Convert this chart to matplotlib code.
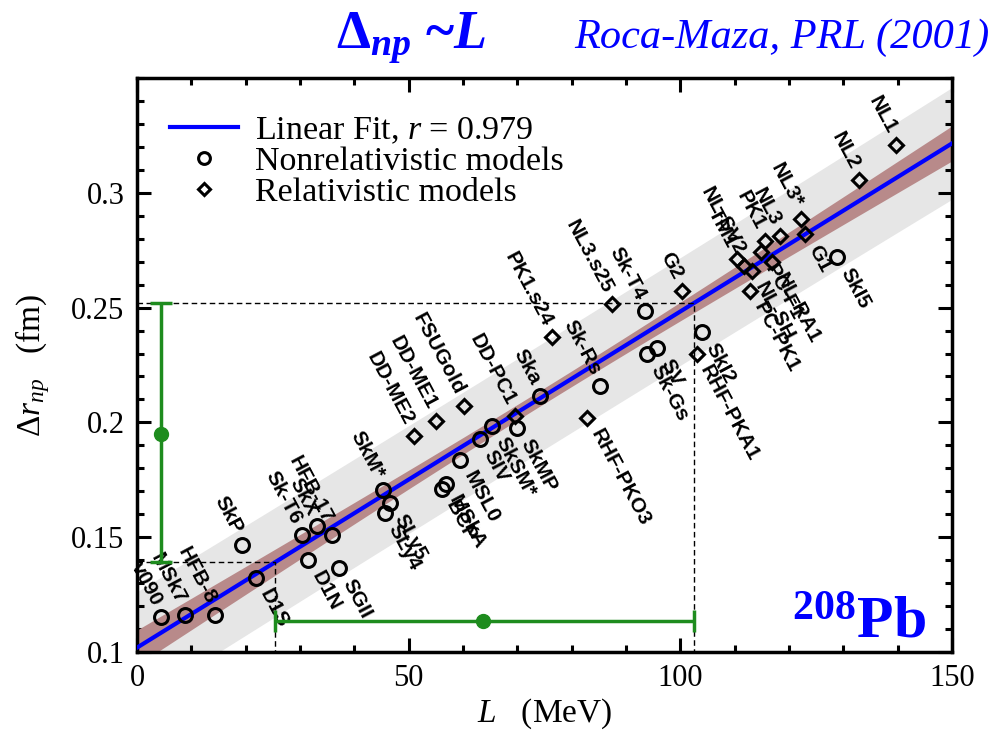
import numpy as np
import matplotlib.pyplot as plt
from matplotlib.ticker import MultipleLocator, FuncFormatter

plt.rcParams['font.family'] = ['Liberation Serif', 'DejaVu Serif']
plt.rcParams['mathtext.fontset'] = 'custom'
plt.rcParams['mathtext.rm'] = 'Liberation Serif'
plt.rcParams['mathtext.it'] = 'Liberation Serif:italic'
plt.rcParams['mathtext.bf'] = 'Liberation Serif:bold'
plt.rcParams['mathtext.bfit'] = 'Liberation Serif:bold:italic'

# modelos nao relativisticos: L (MeV) e Delta r_np (fm) do 208Pb
nr_nomes = ['v090', 'MSk7', 'HFB-8', 'D1S', 'SkP', 'Sk-T6', 'SkX', 'HFB-17',
            'D1N', 'SGII', 'SkM*', 'SLy5', 'SLy4', 'MSkA', 'BCP', 'MSL0',
            'SIV', 'SkSM*', 'SkMP', 'Ska', 'Sk-Rs', 'Sk-T4', 'Sk-Gs', 'SV',
            'SkI2', 'SkI5']
nr_L = [4.5, 8.8, 14.4, 21.9, 19.3, 30.3, 33.1, 35.8,
        31.5, 37.1, 45.3, 46.6, 45.6, 56.8, 56.2, 59.5,
        63.1, 65.3, 69.9, 74.2, 85.2, 93.5, 93.8, 95.7,
        103.9, 128.8]
nr_dr = [0.1154, 0.1162, 0.1162, 0.1324, 0.1467, 0.1510, 0.1547, 0.1510,
         0.1402, 0.1365, 0.1707, 0.1650, 0.1607, 0.1730, 0.1710, 0.1838,
         0.1926, 0.1984, 0.1977, 0.2115, 0.2159, 0.2486, 0.2297, 0.2326,
         0.2392, 0.2719]

# modelos relativisticos
rel_nomes = ['DD-ME2', 'DD-ME1', 'FSUGold', 'DD-PC1', 'PK1.s24', 'RHF-PKO3',
             'NL3.s25', 'G2', 'RHF-PKA1', 'TM1', 'NL-SV2', 'PC-PK1', 'NL-SH',
             'PC-F1', 'PK1', 'NL-RA1', 'NL3', 'NL3*', 'G1', 'NL2', 'NL1']
rel_L = [50.9, 55.0, 60.1, 69.6, 76.3, 82.8,
         87.4, 100.3, 103.0, 110.4, 111.8, 112.8, 113.1,
         114.9, 115.6, 116.8, 118.3, 122.3, 122.9, 132.9, 139.7]
rel_dr = [0.1940, 0.2006, 0.2071, 0.2027, 0.2370, 0.2020,
          0.2515, 0.2573, 0.2297, 0.2712, 0.2680, 0.2573, 0.2661,
          0.2740, 0.2792, 0.2697, 0.2810, 0.2886, 0.2820, 0.3054, 0.3207]

# valor medido de Delta r_np (centro e limites)
dr_pb = 0.195
dr_min = 0.139
dr_max = 0.252

# rotulos que ficam abaixo/direita do ponto (o resto fica acima/esquerda)
abaixo = {'D1S', 'D1N', 'SGII', 'SLy5', 'SLy4', 'MSkA', 'BCP', 'MSL0', 'SIV',
          'SkSM*', 'SkMP', 'RHF-PKO3', 'SV', 'Sk-Gs', 'SkI2', 'RHF-PKA1',
          'G1', 'NL-RA1', 'PC-F1', 'NL-SH', 'PC-PK1', 'SkI5'}

azul = '#0000ff'
verde = '#1e8c1e'

# ajuste linear com bandas de confianca e de predicao
L_todos = np.array(nr_L + rel_L)
dr_todos = np.array(nr_dr + rel_dr)
b, a = np.polyfit(L_todos, dr_todos, 1)
n = len(L_todos)
res = dr_todos - (a + b * L_todos)
s = np.sqrt(np.sum(res ** 2) / (n - 2))
Lm = L_todos.mean()
Sxx = np.sum((L_todos - Lm) ** 2)
t = 2.01
Lx = np.linspace(0, 150, 300)
reta = a + b * Lx
conf = t * s * np.sqrt(1 / n + (Lx - Lm) ** 2 / Sxx)
pred = t * s * np.sqrt(1 + 1 / n + (Lx - Lm) ** 2 / Sxx)

fig = plt.figure(figsize=(10.02, 7.30), dpi=100)
ax = fig.add_axes([137 / 1002, 1 - 652 / 730, 815 / 1002, 574 / 730])

ax.fill_between(Lx, reta - pred, reta + pred, color='#e6e6e6', lw=0, zorder=1)
ax.fill_between(Lx, reta - conf, reta + conf, color='#b88a8a', lw=0, zorder=2)
ax.plot(Lx, reta, color=azul, lw=3, zorder=3, label=r'Linear Fit, $r$ = 0.979')

# faixa de L correspondente ao intervalo medido
L_pb = (dr_pb - a) / b
L_min = (dr_min - a) / b
L_max = (dr_max - a) / b
ax.plot([0, L_max, L_max], [dr_max, dr_max, 0.1], 'k', lw=1, dashes=(4, 2.5), zorder=4)
ax.plot([0, L_min, L_min], [dr_min, dr_min, 0.1], 'k', lw=1, dashes=(4, 2.5), zorder=4)

ax.plot(nr_L, nr_dr, 'o', ls='none', mfc='none', mec='k', mew=2.2, ms=10, zorder=5,
        label='Nonrelativistic models')
ax.plot(rel_L, rel_dr, 'D', ls='none', mfc='none', mec='k', mew=2.2, ms=7.5, zorder=5,
        label='Relativistic models')

ang = -62
for nomes, Ls, drs in [(nr_nomes, nr_L, nr_dr), (rel_nomes, rel_L, rel_dr)]:
    for nome, L, dr in zip(nomes, Ls, drs):
        if nome in abaixo:
            off, ha = (6, -9), 'left'
        else:
            off, ha = (-3, 9), 'right'
        ax.annotate(nome, (L, dr), xytext=off, textcoords='offset points',
                    rotation=ang, rotation_mode='anchor', ha=ha, va='center',
                    fontsize=15, fontweight='bold', family='Liberation Sans', zorder=6)

# barras verdes: Delta r_np medido e L deduzido
ax.errorbar([4.5], [dr_pb], yerr=[[dr_pb - dr_min], [dr_max - dr_pb]], fmt='o',
            color=verde, ms=10, lw=2.5, capsize=8, capthick=2.5, zorder=7)
ax.errorbar([L_pb], [0.1135], xerr=[[L_pb - L_min], [L_max - L_pb]], fmt='o',
            color=verde, ms=10, lw=2.5, capsize=8, capthick=2.5, zorder=7)

ax.set_xlim(0, 150)
ax.set_ylim(0.1, 0.35)
ax.xaxis.set_major_locator(MultipleLocator(50))
ax.xaxis.set_minor_locator(MultipleLocator(10))
ax.yaxis.set_major_locator(MultipleLocator(0.05))
ax.yaxis.set_minor_locator(MultipleLocator(0.01))
ax.yaxis.set_major_formatter(FuncFormatter(lambda v, p: '%g' % round(v, 3)))
ax.set_yticks([0.1, 0.15, 0.2, 0.25, 0.3])
ax.tick_params(which='both', direction='in', top=True, right=True, width=2.2,
               labelsize=22)
ax.tick_params(which='major', length=10, pad=9)
ax.tick_params(which='minor', length=5)
for sp in ax.spines.values():
    sp.set_linewidth(2.5)

ax.set_xlabel(r'$L$   (MeV)', fontsize=24, labelpad=2)
ax.set_ylabel(r'$\Delta r_{np}$   (fm)', fontsize=24, labelpad=14)

ax.legend(loc='upper left', bbox_to_anchor=(0.04, 0.935), frameon=False,
          fontsize=24.5, markerscale=0.85, handlelength=2.0, handletextpad=0.5,
          labelspacing=0.0, borderpad=0, borderaxespad=0)

ax.text(0.968, 0.025, r'$\mathbf{^{208}Pb}$', transform=ax.transAxes, ha='right',
        va='baseline', fontsize=43, color=azul, zorder=8)

fig.text(0.41, 0.948, r'$\mathbf{\Delta}_{\mathbfit{np}}$ ~$\mathbfit{L}$',
         ha='center', va='center', fontsize=39, color=azul, fontweight='bold')
fig.text(0.988, 0.948, 'Roca-Maza, PRL (2001)', ha='right', va='center',
         fontsize=30.5, color=azul, style='italic')

fig.savefig('out.png', dpi=100)
